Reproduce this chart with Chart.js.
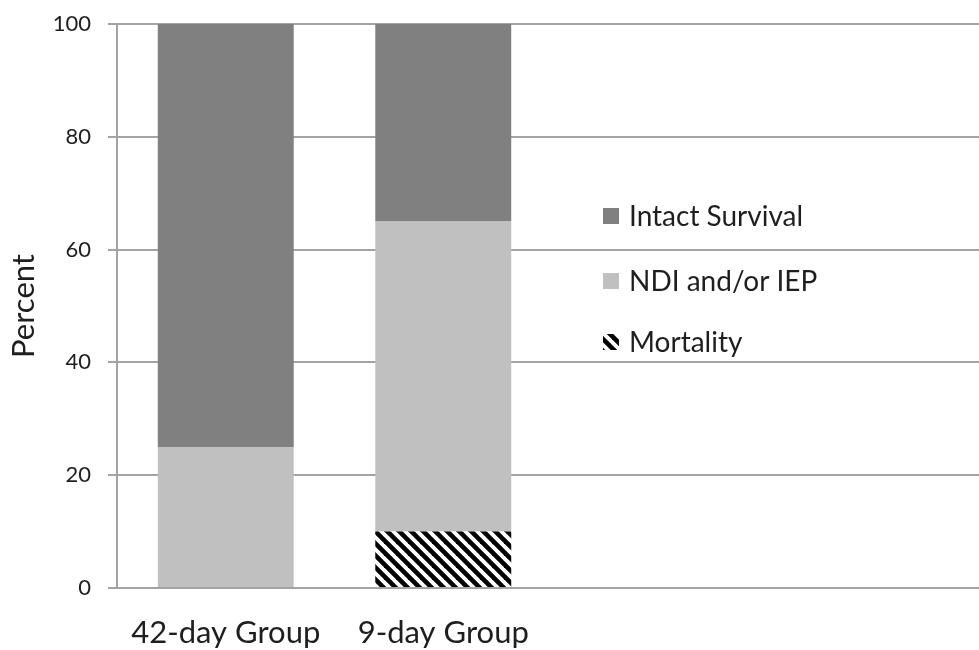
<!DOCTYPE html>
<html>
<head>
<meta charset="utf-8">
<script src="https://cdn.jsdelivr.net/npm/chart.js@4/dist/chart.umd.min.js"></script>
<style>
  html, body { margin: 0; padding: 0; background: #fff; overflow: hidden; }
  /* plot area runs a few px past the right edge of the picture */
  #wrap { width: 987px; height: 650px; position: relative; }
</style>
</head>
<body>
<div id="wrap"><canvas id="chart"></canvas></div>
<script>
// Data (percent of each group)
const groups = ['42-day Group', '9-day Group', '', ''];
const mortality = [0, 10];
const ndiIep = [25, 55];
const intactSurvival = [75, 35];
const yTicks = [0, 20, 40, 60, 80, 100];

const FONT = 'Lato, "Open Sans", sans-serif';
const GRID = '#a3a3a3';
const TEXT = '#1e1e1e';

// Black/white diagonal hatch used for the Mortality series
function makeHatch() {
    const p = 12;
    const c = document.createElement('canvas');
    c.width = p;
    c.height = p;
    const g = c.getContext('2d');
    g.fillStyle = '#fff';
    g.fillRect(0, 0, p, p);
    g.strokeStyle = '#000';
    g.lineWidth = 4.6;
    for (let k = -1; k <= 1; k++) {
        g.beginPath();
        g.moveTo(k * p - 2, -2);
        g.lineTo(k * p + p + 2, p + 2);
        g.stroke();
    }
    return g.createPattern(c, 'repeat');
}

// Legend drawn inside the plot area, top to bottom = reverse stack order
const insideLegend = {
    id: 'insideLegend',
    afterDraw(chart) {
        const ctx = chart.ctx;
        const area = chart.chartArea;
        const x = area.left + 486;
        const rows = [192, 257, 318];
        const sets = chart.data.datasets.slice().reverse();
        ctx.save();
        ctx.font = '28px ' + FONT;
        ctx.textBaseline = 'middle';
        sets.forEach((ds, i) => {
            const cy = area.top + rows[i];
            ctx.fillStyle = ds.backgroundColor;
            ctx.fillRect(x, cy - 8, 16, 16);
            ctx.fillStyle = TEXT;
            ctx.fillText(ds.label, x + 26, cy + 1);
        });
        ctx.restore();
    }
};

const ctx = document.getElementById('chart').getContext('2d');
new Chart(ctx, {
    type: 'bar',
    data: {
        labels: groups,
        datasets: [
            { label: 'Mortality', data: mortality, backgroundColor: makeHatch() },
            { label: 'NDI and/or IEP', data: ndiIep, backgroundColor: '#c0c0c0' },
            { label: 'Intact Survival', data: intactSurvival, backgroundColor: '#808080' }
        ]
    },
    options: {
        responsive: true,
        maintainAspectRatio: false,
        animation: false,
        layout: { padding: { top: 24, right: 0, left: 0, bottom: 0 } },
        datasets: {
            bar: { barPercentage: 0.625, categoryPercentage: 1, borderWidth: 0 }
        },
        plugins: {
            legend: { display: false },
            tooltip: { enabled: false }
        },
        scales: {
            x: {
                stacked: true,
                grid: { display: false },
                border: { display: false },
                ticks: {
                    color: TEXT,
                    font: { family: FONT, size: 31 },
                    padding: 18,
                    maxRotation: 0,
                    autoSkip: false
                },
                afterFit: s => { s.height = 62; }
            },
            y: {
                stacked: true,
                min: 0,
                max: 100,
                afterBuildTicks: s => { s.ticks = yTicks.map(v => ({ value: v })); },
                grid: { color: GRID, lineWidth: 2, tickLength: 9 },
                border: { display: true, color: GRID, width: 2 },
                ticks: {
                    color: TEXT,
                    font: { family: FONT, size: 22 },
                    padding: 17
                },
                title: {
                    display: true,
                    text: 'Percent',
                    color: TEXT,
                    font: { family: FONT, size: 31 },
                    padding: { top: 5, bottom: 0 }
                },
                afterFit: s => {
                    s.width = 117;
                    s.paddingTop = 0;
                    s.paddingBottom = 0;
                }
            }
        }
    },
    plugins: [insideLegend]
});
</script>
</body>
</html>
